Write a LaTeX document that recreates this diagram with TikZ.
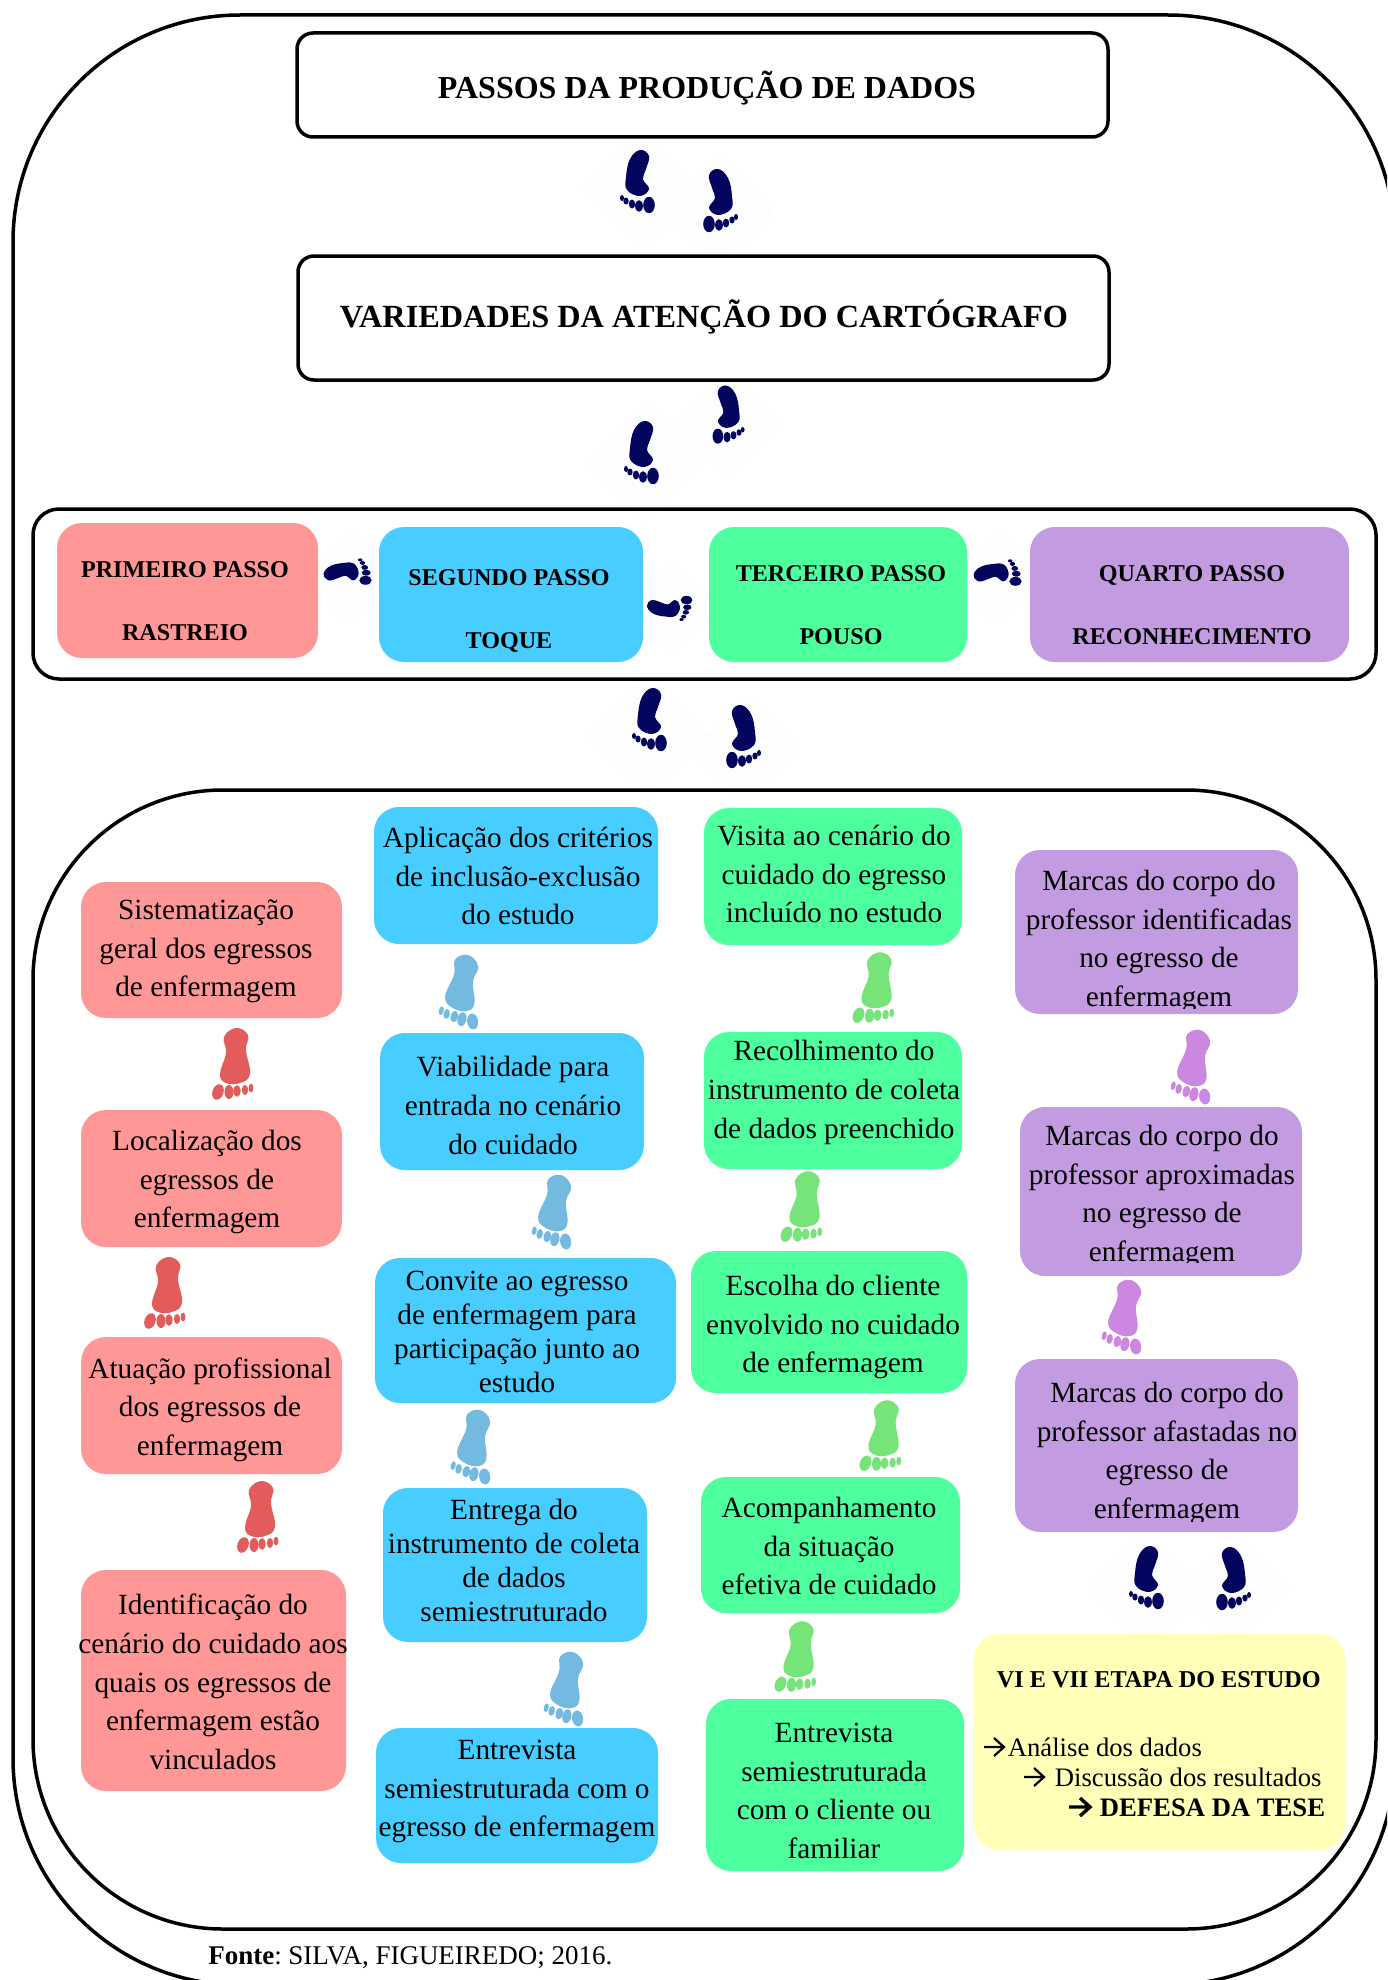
\documentclass[tikz,border=0pt]{standalone}
\usepackage{fontspec}
\setmainfont{Liberation Serif}
\definecolor{cpink}{HTML}{FF9797}
\definecolor{cblue}{HTML}{47CDFF}
\definecolor{cgreen}{HTML}{4DFF9D}
\definecolor{cpurple}{HTML}{C39BE1}
\definecolor{cyellow}{HTML}{FFFFB7}
\definecolor{fnavy}{HTML}{03045E}
\definecolor{fred}{HTML}{E25C5C}
\definecolor{fblue}{HTML}{74B9E0}
\definecolor{fgreen}{HTML}{77E47A}
\definecolor{fpurple}{HTML}{CC88E0}
\definecolor{ghost}{HTML}{FDFDFD}
\tikzset{
  frame/.style={draw=black,line width=1.75pt},
  cbx/.style={rounded corners=12.5pt,inner sep=0pt,outer sep=0pt},
  tbox/.style={draw=black,line width=1.75pt,fill=white,rounded corners=8pt,inner sep=0pt,outer sep=0pt},
  body/.style={font=\fontsize{14.65}{19.3}\selectfont,align=center,inner sep=0pt},
  tight/.style={font=\fontsize{14.65}{17}\selectfont,align=center,inner sep=0pt},
  stepl/.style={font=\fontsize{12.05}{31.5}\selectfont\bfseries,align=center,inner sep=0pt},
  titl/.style={font=\fontsize{16}{19}\selectfont\bfseries,inner sep=0pt},
  ln/.style={font=\fontsize{13.33}{16}\selectfont,anchor=base west,inner sep=0pt},
}
% box by its corners, in pixels
\newcommand\cbox[6]{\node[#6,minimum width={(#4-#2)*0.5pt},minimum height={(#5-#3)*0.5pt}] (#1) at ({(#2+#4)/2},{(#3+#5)/2}) {};}
% footprint, navy kind: x y rotate xscale scale colour
\newcommand\fnav[6]{\begin{scope}[shift={(#1,#2)},rotate=#3,xscale=#4,scale=#5]
 \fill[#6] plot[smooth cycle,tension=0.7] coordinates {(2,-32)(11,-26)(8,-13)(5,-3)(11,7)(2,14)(-11,8)(-12,-5)(-8,-23)};
 \fill[#6] (11,23) ellipse [x radius=5.8,y radius=8.2];
 \fill[#6] (1,24) ellipse [x radius=3.9,y radius=5.8];
 \fill[#6] (-6,22) ellipse [x radius=3.2,y radius=4.5];
 \fill[#6] (-12,19) ellipse [x radius=2.7,y radius=3.5];
 \fill[#6] (-16,16) ellipse [x radius=2,y radius=3];
\end{scope}}
% footprint, pastel kind
\newcommand\fpas[6]{\begin{scope}[shift={(#1,#2)},rotate=#3,xscale=#4,scale=#5]
 \fill[#6] plot[smooth cycle,tension=0.7] coordinates {(3,-35)(15,-28)(13,-13)(17,11)(7,20)(-7,20)(-13,11)(-7,-10)(-9,-26)};
 \fill[#6,rotate around={-20:(-15,29)}] (-15,29) ellipse [x radius=5.5,y radius=8];
 \fill[#6] (-4,29) ellipse [x radius=4.5,y radius=7];
 \fill[#6] (4,28) ellipse [x radius=3.6,y radius=5.8];
 \fill[#6] (12,27) ellipse [x radius=3.2,y radius=5];
 \fill[#6] (18,25) ellipse [x radius=2.4,y radius=4.4];
\end{scope}}
\newcommand\ghostd[3]{\fill[ghost] (#1-#3,#2) -- (#1,#2-#3) -- (#1+#3,#2) -- (#1,#2+#3) -- cycle;}
\newcommand\chev[4]{\draw[line width=#4,line join=miter] (#1,#2-9) -- (#1+#3,#2-9) (#1+#3-10,#2-18) -- (#1+#3,#2-9) -- (#1+#3-10,#2);}
\begin{document}
\begin{tikzpicture}[x=0.5pt,y=-0.5pt]
\useasboundingbox (0,0) rectangle (1387,1980);
\clip (0,0) rectangle (1387,1980);
\fill[white] (0,0) rectangle (1387,1980);
% faint squares behind the navy prints
\ghostd{640}{190}{58}\ghostd{718}{212}{54}
\ghostd{645}{462}{58}\ghostd{728}{425}{54}
\ghostd{648}{735}{58}\ghostd{745}{750}{54}
\ghostd{1147}{1590}{58}\ghostd{1235}{1590}{54}
\ghostd{350}{578}{45}\ghostd{672}{610}{45}\ghostd{998}{578}{45}
% frames
\draw[frame,rounded corners=113.5pt] (13,15) rectangle (1395,1985);
\draw[frame,rounded corners=95pt] (33,790) rectangle (1376,1929);
\draw[frame,rounded corners=13pt] (33,509) rectangle (1376,679);
% title boxes
\cbox{tA}{297}{33}{1108}{137}{tbox}
\cbox{tB}{298}{256}{1109}{380}{tbox}
\node[titl] (tAt) at (707,88) {PASSOS DA PRODUÇÃO DE DADOS};
\node[titl,font=\fontsize{16.15}{19}\selectfont\bfseries] (tBt) at (704,317) {VARIEDADES DA ATENÇÃO DO CARTÓGRAFO};
% step row
\cbox{s1}{57}{523}{318}{658}{cbx,fill=cpink}
\cbox{s2}{379}{527}{643}{662}{cbx,fill=cblue}
\cbox{s3}{709}{527}{967}{662}{cbx,fill=cgreen}
\cbox{s4}{1030}{527}{1349}{662}{cbx,fill=cpurple}
\node[stepl] (s1t) at (185,601) {PRIMEIRO PASSO\\RASTREIO};
\node[stepl] (s2t) at (509,610.5) {SEGUNDO PASSO\\TOQUE};
\node[stepl] (s3t) at (841,605) {TERCEIRO PASSO\\POUSO};
\node[stepl] (s4t) at (1192,605) {QUARTO PASSO\\RECONHECIMENTO};
% column 1
\cbox{a1}{81}{882}{342}{1018}{cbx,fill=cpink}
\cbox{a2}{81}{1110}{342}{1247}{cbx,fill=cpink}
\cbox{a3}{81}{1337}{342}{1474}{cbx,fill=cpink}
\cbox{a4}{81}{1570}{346}{1791}{cbx,fill=cpink}
\node[body] (a1t) at (206,951.5) {Sistematização\\geral dos egressos\\de enfermagem};
\node[body] (a2t) at (207,1182) {Localização dos\\egressos de\\enfermagem};
\node[body] (a3t) at (210,1409.5) {Atuação profissional\\dos egressos de\\enfermagem};
\node[body] (a4t) at (213,1682) {Identificação do\\cenário do cuidado aos\\quais os egressos de\\enfermagem estão\\vinculados};
% column 2
\cbox{b1}{374}{807}{658}{944}{cbx,fill=cblue}
\cbox{b2}{380}{1033}{644}{1170}{cbx,fill=cblue}
\cbox{b3}{375}{1258}{676}{1403}{cbx,fill=cblue}
\cbox{b4}{383}{1488}{647}{1642}{cbx,fill=cblue}
\cbox{b5}{376}{1728}{658}{1863}{cbx,fill=cblue}
\node[body] (b1t) at (518,876) {Aplicação dos critérios\\de inclusão-exclusão\\do estudo};
\node[body] (b2t) at (513,1105.5) {Viabilidade para\\entrada no cenário\\do cuidado};
\node[tight] (b3t) at (517,1332) {Convite ao egresso\\de enfermagem para\\participação junto ao\\estudo};
\node[tight] (b4t) at (514,1560) {Entrega do\\instrumento de coleta\\de dados\\semiestruturado};
\node[body] (b5t) at (517,1791.5) {Entrevista\\semiestruturada com o\\egresso de enfermagem};
% column 3
\cbox{c1}{704}{808}{962}{945}{cbx,fill=cgreen}
\cbox{c2}{704}{1032}{962}{1169}{cbx,fill=cgreen}
\cbox{c3}{691}{1251}{967}{1393}{cbx,fill=cgreen}
\cbox{c4}{701}{1477}{960}{1613}{cbx,fill=cgreen}
\cbox{c5}{706}{1699}{964}{1871}{cbx,fill=cgreen}
\node[body] (c1t) at (834,874) {Visita ao cenário do\\cuidado do egresso\\incluído no estudo};
\node[body] (c2t) at (834,1092.5) {Recolhimento do\\instrumento de coleta\\de dados preenchido};
\node[body] (c3t) at (833,1327) {Escolha do cliente\\envolvido no cuidado\\de enfermagem};
\node[body] (c4t) at (829,1546) {Acompanhamento\\da situação\\efetiva de cuidado};
\node[body] (c5t) at (834,1791) {Entrevista\\semiestruturada\\com o cliente ou\\familiar};
% column 4
\cbox{d1}{1015}{850}{1298}{1014}{cbx,fill=cpurple}
\cbox{d2}{1020}{1107}{1302}{1276}{cbx,fill=cpurple}
\cbox{d3}{1015}{1359}{1298}{1532}{cbx,fill=cpurple}
\begin{scope}\clip (1015,850) rectangle (1298,1008);
\node[body] (d1t) at (1159,941.5) {Marcas do corpo do\\professor identificadas\\no egresso de\\enfermagem};
\end{scope}
\begin{scope}\clip (1020,1107) rectangle (1302,1262);
\node[body] (d2t) at (1162,1196.5) {Marcas do corpo do\\professor aproximadas\\no egresso de\\enfermagem};
\end{scope}
\begin{scope}\clip (1015,1359) rectangle (1298,1521);
\node[body] (d3t) at (1167,1453.5) {Marcas do corpo do\\professor afastadas no\\egresso de\\enfermagem};
\end{scope}
% last stage
\cbox{e}{974}{1634}{1345}{1850}{cbx,fill=cyellow}
\node[font=\fontsize{12.1}{14}\selectfont\bfseries,anchor=base west,inner sep=0pt] (e0) at (996.5,1687) {VI E VII ETAPA DO ESTUDO};
\node[ln] (e1) at (1007.5,1756) {Análise dos dados};
\node[ln] (e2) at (1054.5,1786) {Discussão dos resultados};
\node[ln,font=\fontsize{13.33}{16}\selectfont\bfseries] (e3) at (1099.5,1816) {DEFESA DA TESE};
\chev{984}{1756}{20}{1.1pt}
\chev{1024}{1786}{20}{1.1pt}
\chev{1069}{1816}{21}{1.7pt}
% source
\node[font=\fontsize{13.5}{16}\selectfont,anchor=base west,inner sep=0pt] (src) at (208,1964) {\textbf{Fonte}:\hspace{-1.2pt} SILVA, FIGUEIREDO; 2016.};
% navy prints
\fnav{638}{182}{0}{1}{1}{fnavy}
\fnav{720}{201}{0}{-1}{1}{fnavy}
\fnav{642}{453}{0}{1}{1}{fnavy}
\fnav{728}{415}{0}{-1}{0.92}{fnavy}
\fnav{650}{720}{0}{1}{1}{fnavy}
\fnav{743}{737}{0}{-1}{1}{fnavy}
\fnav{1147}{1578}{0}{1}{1}{fnavy}
\fnav{1233}{1579}{0}{-1}{1}{fnavy}
\fnav{348}{572}{90}{-1}{0.76}{fnavy}
\fnav{998}{573}{90}{-1}{0.76}{fnavy}
\fnav{670}{608}{90}{1}{0.72}{fnavy}
% pastel prints
\fpas{233}{1063}{0}{1}{1}{fred}
\fpas{165}{1292}{0}{1}{1}{fred}
\fpas{258}{1516}{0}{1}{1}{fred}
\fpas{464}{990}{-12}{-1}{1}{fblue}
\fpas{557}{1210}{-12}{-1}{1}{fblue}
\fpas{476}{1445}{-12}{-1}{1}{fblue}
\fpas{569}{1687}{-12}{-1}{1}{fblue}
\fpas{875}{987}{-3}{1}{1}{fgreen}
\fpas{803}{1206}{-3}{1}{1}{fgreen}
\fpas{882}{1435}{-3}{1}{1}{fgreen}
\fpas{797}{1656}{-3}{1}{1}{fgreen}
\fpas{1196}{1065}{-12}{-1}{1}{fpurple}
\fpas{1127}{1315}{-12}{-1}{1}{fpurple}
\end{tikzpicture}
\end{document}
